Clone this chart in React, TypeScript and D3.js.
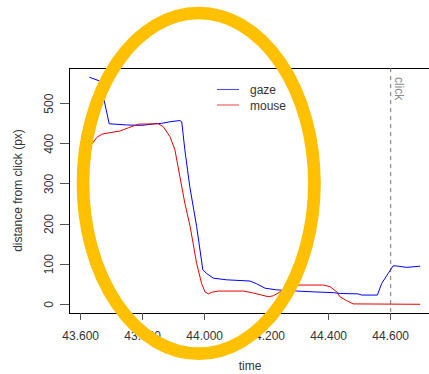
import React from "react";
import * as d3 from "d3";

// Gaze track: time (s) and distance from the click point (px)
const gazeTime = [
  43.628, 43.66, 43.673, 43.692, 43.748, 43.797, 43.84, 43.861, 43.888, 43.92,
  43.926, 43.936, 43.952, 43.974, 43.994, 44.006, 44.028, 44.071, 44.146, 44.168,
  44.195, 44.232, 44.297, 44.35, 44.415, 44.437, 44.494, 44.507, 44.557, 44.571,
  44.592, 44.608, 44.624, 44.651, 44.695,
];
const gazeDist = [
  566, 557, 518, 450, 447, 446, 450, 451, 455, 458,
  455, 385, 293, 194, 86, 77, 65, 61, 58, 51,
  40, 36, 33, 31, 29, 27, 26, 23, 23, 52,
  77, 96, 95, 92, 95,
];

// Mouse track: time (s) and distance from the click point (px)
const mouseTime = [
  43.635, 43.652, 43.668, 43.695, 43.727, 43.754, 43.786, 43.85, 43.866, 43.888,
  43.904, 43.92, 43.936, 43.953, 43.974, 43.99, 44.001, 44.012, 44.023, 44.044,
  44.125, 44.152, 44.184, 44.205, 44.221, 44.243, 44.275, 44.307, 44.383, 44.404,
  44.426, 44.436, 44.458, 44.479, 44.695,
];
const mouseDist = [
  398, 416, 424, 428, 432, 440, 449, 450, 443, 418,
  385, 318, 252, 194, 102, 52, 31, 26, 30, 33,
  33, 29, 23, 19, 21, 31, 46, 48, 48, 44,
  31, 19, 9, 1, 0,
];

const clickTime = 44.6;
const xTicks = [43.6, 43.8, 44.0, 44.2, 44.4, 44.6];
const yTicks = [0, 100, 200, 300, 400, 500];

const W = 429;
const H = 374;
const box = { left: 69, right: 433, top: 68, bottom: 313 };
const font = "'Liberation Sans', Arial, sans-serif";
const textColor = "#333";

export default function App() {
  const x = d3.scaleLinear().domain([43.5623, 44.7365]).range([box.left, box.right]);
  const y = d3.scaleLinear().domain([-21.7, 589]).range([box.bottom, box.top]);

  const line = d3
    .line<[number, number]>()
    .x((d) => x(d[0]))
    .y((d) => y(d[1]));

  const gaze = line(gazeTime.map((t, i) => [t, gazeDist[i]] as [number, number])) || "";
  const mouse = line(mouseTime.map((t, i) => [t, mouseDist[i]] as [number, number])) || "";

  const clickX = x(clickTime);

  return (
    <svg
      width={W}
      height={H}
      style={{ position: "absolute", left: 0, top: 0, background: "#fff" }}
      fontFamily={font}
      fontSize={12}
    >
      <rect x={0} y={0} width={W} height={H} fill="#fff" />

      {/* plot frame */}
      <rect
        x={box.left}
        y={box.top}
        width={box.right - box.left}
        height={box.bottom - box.top}
        fill="none"
        stroke="#000"
        strokeWidth={1}
        shapeRendering="crispEdges"
      />

      {/* y axis */}
      {yTicks.map((v) => (
        <g key={"y" + v}>
          <line
            x1={box.left - 9}
            x2={box.left}
            y1={y(v)}
            y2={y(v)}
            stroke="#555"
            shapeRendering="crispEdges"
          />
          <text
            transform={`translate(${box.left - 16.5},${y(v)}) rotate(-90)`}
            textAnchor="middle"
            fill={textColor}
          >
            {v}
          </text>
        </g>
      ))}

      {/* x axis */}
      {xTicks.map((t) => (
        <g key={"x" + t}>
          <line
            x1={x(t)}
            x2={x(t)}
            y1={box.bottom}
            y2={box.bottom + 7}
            stroke="#555"
            shapeRendering="crispEdges"
          />
          <text x={x(t)} y={340} textAnchor="middle" fill={textColor}>
            {d3.format(".3f")(t)}
          </text>
        </g>
      ))}

      <text x={250} y={369.5} textAnchor="middle" fill={textColor}>
        time
      </text>
      <text
        transform={`translate(22,${(box.top + box.bottom) / 2}) rotate(-90)`}
        textAnchor="middle"
        fill={textColor}
      >
        distance from click (px)
      </text>

      {/* click marker */}
      <line
        x1={clickX}
        x2={clickX}
        y1={box.top}
        y2={box.bottom}
        stroke="#777"
        strokeDasharray="4,4"
      />
      <text transform={`translate(${clickX + 4},77) rotate(90)`} fill="#888">
        click
      </text>

      {/* series */}
      <path d={gaze} fill="none" stroke="#0000ff" strokeWidth={1} />
      <path d={mouse} fill="none" stroke="#e60000" strokeWidth={1} />

      {/* legend */}
      <line x1={217} x2={239} y1={89.5} y2={89.5} stroke="#4a4aff" />
      <text x={250} y={94} fill={textColor}>
        gaze
      </text>
      <line x1={217} x2={239} y1={105} y2={105} stroke="#ee4444" />
      <text x={250} y={109.5} fill={textColor}>
        mouse
      </text>

      {/* highlight ring */}
      <ellipse cx={198.7} cy={183.3} rx={115.7} ry={170.3} fill="none" stroke="#FFC000" strokeWidth={12.7} />
    </svg>
  );
}
